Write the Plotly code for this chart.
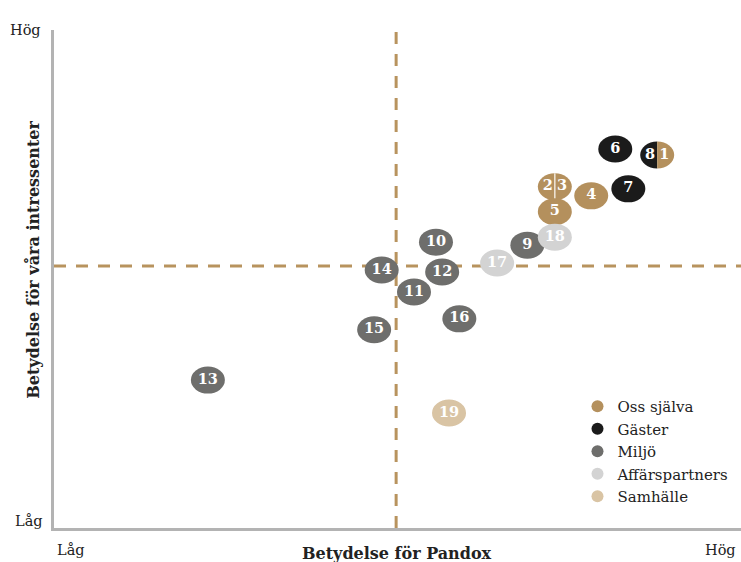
import plotly.graph_objects as go

# ---- data (0-100 scales: Betydelse för Pandox, Betydelse för våra intressenter)
ids = [1, 2, 3, 4, 5, 6, 7, 8, 9, 10, 11, 12, 13, 14, 15, 16, 17, 18, 19]
x_vals = [87.8, 72.9, 72.9, 78.2, 72.9, 81.7, 83.6, 87.8, 68.9, 55.6, 52.4, 56.5, 22.4, 47.7, 46.6, 59.0, 64.5, 72.9, 57.5]
y_vals = [74.9, 68.5, 68.5, 66.7, 63.5, 76.1, 68.1, 74.9, 56.8, 57.4, 47.4, 51.4, 29.7, 51.8, 39.8, 42.0, 53.2, 58.4, 23.1]
cats = ["Oss själva", "Oss själva", "Oss själva", "Oss själva", "Oss själva",
        "Gäster", "Gäster", "Gäster",
        "Miljö", "Miljö", "Miljö", "Miljö", "Miljö", "Miljö", "Miljö", "Miljö",
        "Affärspartners", "Affärspartners", "Samhälle"]
split_pairs = [(8, 1), (2, 3)]   # (left half, right half)
categories = ["Oss själva", "Gäster", "Miljö", "Affärspartners", "Samhälle"]
colors = {"Oss själva": "#B4905D", "Gäster": "#1b1b1b", "Miljö": "#6e6e6c",
          "Affärspartners": "#d3d3d3", "Samhälle": "#d9c4a4"}
x_mid, y_mid = 49.8, 52.6
axis_labels = {"low": "Låg", "high": "Hög"}
x_title = "Betydelse för Pandox"
y_title = "Betydelse för våra intressenter"

# ---- geometry
W, H = 741, 562
ML, MR, MT, MB = 54, 0, 30, 34
pw, ph = W - ML - MR, H - MT - MB
rx = 17 / pw * 100
ry = 13.5 / ph * 100
K = 0.5523

fig = go.Figure()
shapes = []
# dashed quadrant lines
dash_col = "#b8935e"
shapes.append(dict(type="line", xref="x", yref="paper", x0=x_mid, x1=x_mid, y0=0, y1=1,
                   line=dict(color=dash_col, width=3, dash="12px,10px"), layer="below"))
shapes.append(dict(type="line", xref="paper", yref="y", x0=0, x1=1, y0=y_mid, y1=y_mid,
                   line=dict(color=dash_col, width=3, dash="12px,10px"), layer="below"))

left_of = {a: b for a, b in split_pairs}
right_ids = {b for a, b in split_pairs}
idx = {i: k for k, i in enumerate(ids)}


def half_path(cx, cy, side):
    s = -1 if side == "left" else 1
    return (f"M{cx},{cy+ry} C{cx+s*K*rx},{cy+ry} {cx+s*rx},{cy+K*ry} {cx+s*rx},{cy} "
            f"C{cx+s*rx},{cy-K*ry} {cx+s*K*rx},{cy-ry} {cx},{cy-ry} Z")

text_x, text_y, text_s = [], [], []
for i in ids:
    k = idx[i]
    cx, cy = x_vals[k], y_vals[k]
    col = colors[cats[k]]
    if i in right_ids:
        continue
    if i in left_of:
        j = left_of[i]
        kj = idx[j]
        col2 = colors[cats[kj]]
        shapes.append(dict(type="path", xref="x", yref="y", path=half_path(cx, cy, "left"),
                           fillcolor=col, line=dict(width=0), layer="below"))
        shapes.append(dict(type="path", xref="x", yref="y", path=half_path(cx, cy, "right"),
                           fillcolor=col2, line=dict(width=0), layer="below"))
        if col == col2:
            shapes.append(dict(type="line", xref="x", yref="y", x0=cx, x1=cx, y0=cy - ry, y1=cy + ry,
                               line=dict(color="#efe6d8", width=1.5), layer="below"))
        dx = rx * 0.42
        text_x += [cx - dx, cx + dx]
        text_y += [cy, cy]
        text_s += [str(i), str(j)]
    else:
        shapes.append(dict(type="circle", xref="x", yref="y", x0=cx - rx, x1=cx + rx,
                           y0=cy - ry, y1=cy + ry, fillcolor=col, line=dict(width=0), layer="below"))
        text_x.append(cx)
        text_y.append(cy)
        text_s.append(str(i))

fig.add_trace(go.Scatter(x=text_x, y=text_y, text=text_s, mode="text",
                         textfont=dict(family="DejaVu Serif", size=14.5, color="white", weight="bold"),
                         showlegend=False, hoverinfo="skip"))

for n, c in enumerate(categories):
    fig.add_trace(go.Scatter(x=[None], y=[None], mode="markers", name=c, legendgroup=f"g{n}",
                             marker=dict(color=colors[c], size=14)))

ann_font = dict(family="DejaVu Serif", size=14.5, color="#222")
title_font = dict(family="DejaVu Serif", size=16, color="#222", weight="bold")
annotations = [
    dict(text=axis_labels["high"], xref="paper", yref="paper", x=-0.016, y=1.0, xanchor="right", yanchor="middle", showarrow=False, font=ann_font),
    dict(text=axis_labels["low"], xref="paper", yref="paper", x=-0.013, y=0.014, xanchor="right", yanchor="middle", showarrow=False, font=ann_font),
    dict(text=axis_labels["low"], xref="paper", yref="paper", x=0.025, y=-0.044, xanchor="center", yanchor="middle", showarrow=False, font=ann_font),
    dict(text=axis_labels["high"], xref="paper", yref="paper", x=0.97, y=-0.044, xanchor="center", yanchor="middle", showarrow=False, font=ann_font),
    dict(text=x_title, xref="paper", yref="paper", x=0.499, y=-0.052, xanchor="center", yanchor="middle", showarrow=False, font=title_font),
    dict(text=y_title, xref="paper", yref="paper", x=-0.031, y=0.538, xanchor="center", yanchor="middle", textangle=-90, showarrow=False, font=title_font),
]

fig.update_layout(
    width=W, height=H,
    margin=dict(l=ML, r=MR, t=MT, b=MB, autoexpand=False),
    paper_bgcolor="white", plot_bgcolor="white",
    shapes=shapes, annotations=annotations,
    xaxis=dict(range=[0, 100], showgrid=False, zeroline=False, showticklabels=False, ticks="",
               showline=True, linecolor="#b3b3b3", linewidth=3, fixedrange=True),
    yaxis=dict(range=[0, 100], showgrid=False, zeroline=False, showticklabels=False, ticks="",
               showline=True, linecolor="#b3b3b3", linewidth=3, fixedrange=True),
    legend=dict(x=0.762, y=0.277, xanchor="left", yanchor="top", bgcolor="rgba(0,0,0,0)",
                font=dict(family="DejaVu Serif", size=15, color="#222"),
                tracegroupgap=0, itemsizing="constant"),
    showlegend=True,
)

fig.write_html("out.html", config={"displayModeBar": False},
               post_script="document.body.style.margin='0';document.body.style.padding='0';")
